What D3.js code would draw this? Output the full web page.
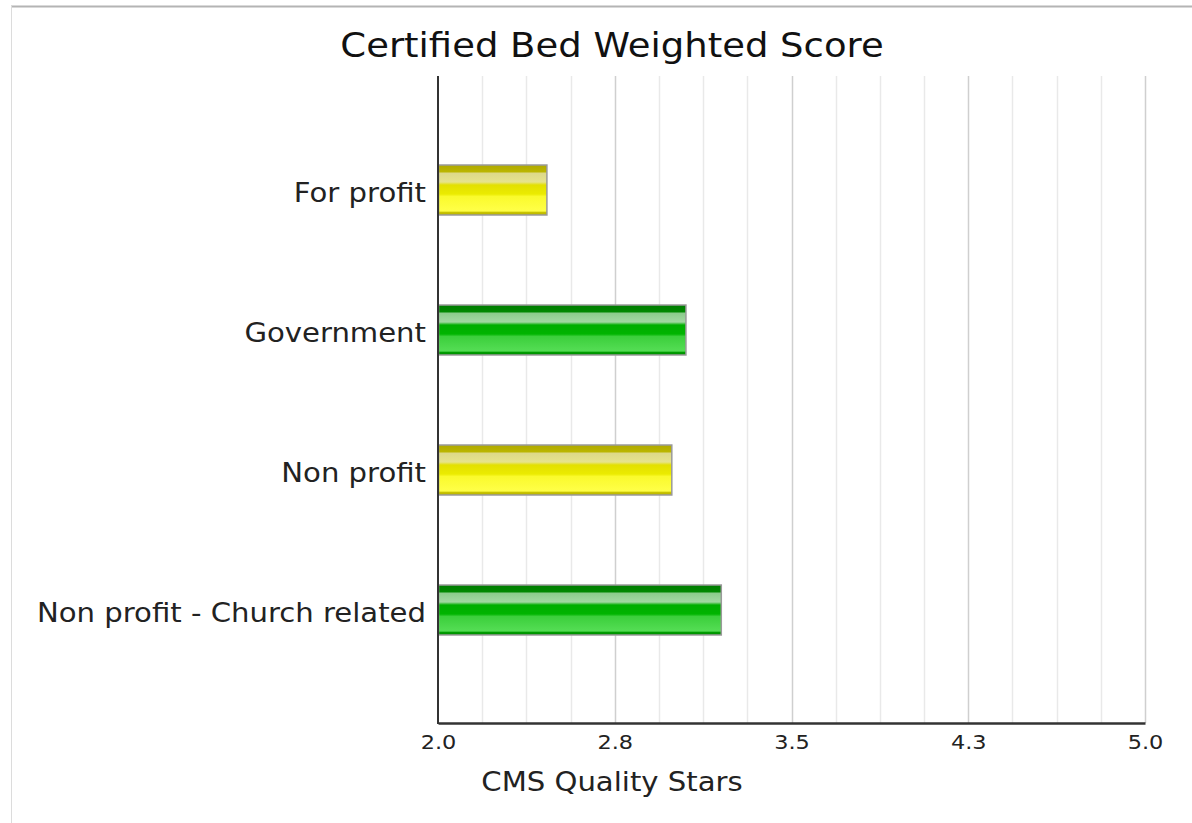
<!DOCTYPE html>
<html><head><meta charset="utf-8">
<script src="https://cdn.jsdelivr.net/npm/d3@7"></script>
<style>
html,body{margin:0;padding:0;background:#fff;}
svg{display:block;font-family:"DejaVu Sans",Verdana,sans-serif;}
</style></head>
<body><svg id="chart" width="1192" height="823"></svg>
<script>
const categories = ["For profit", "Government", "Non profit", "Non profit - Church related"];
const values = [2.46, 3.05, 2.99, 3.20];
const barColors = ["yellow", "green", "yellow", "green"];
const tickValues = [2.0, 2.75, 3.5, 4.25, 5.0];
const xDomain = [2.0, 5.0];
const title = "Certified Bed Weighted Score";
const xTitle = "CMS Quality Stars";

(function () {
const svg = d3.select("#chart");
const W = 1192, H = 823;
const pLeft = 438, pRight = 1145, pTop = 76, pBottom = 723;
const STRETCH = 1.12;
function stretch(sel) {
  sel.each(function () {
    const len = this.getComputedTextLength();
    d3.select(this).attr("textLength", len * STRETCH).attr("lengthAdjust", "spacingAndGlyphs");
  });
}

// outer frame lines
svg.append("line").attr("x1", 11).attr("x2", W).attr("y1", 6.5).attr("y2", 6.5)
  .attr("stroke", "#b4b4b4").attr("stroke-width", 2);
svg.append("line").attr("x1", 11.5).attr("x2", 11.5).attr("y1", 6).attr("y2", H)
  .attr("stroke", "#dcdcdc").attr("stroke-width", 1);

const defs = svg.append("defs");
const grads = {
  yellow: [[0, "#b0aa00"], [0.13, "#bab500"], [0.17, "#ddd98a"], [0.34, "#e6e38c"], [0.40, "#e3e000"], [0.58, "#ebeb00"], [0.63, "#fafa2c"], [0.92, "#ffff48"], [0.95, "#c8c300"], [1, "#b5b000"]],
  green: [[0, "#007c00"], [0.13, "#008800"], [0.17, "#8ccc8c"], [0.34, "#a3d8a3"], [0.40, "#00ae00"], [0.58, "#00b400"], [0.63, "#3bcf3b"], [0.92, "#55dd55"], [0.95, "#009c00"], [1, "#008600"]]
};
Object.entries(grads).forEach(([k, stops]) => {
  const g = defs.append("linearGradient").attr("id", "g-" + k)
    .attr("x1", 0).attr("y1", 0).attr("x2", 0).attr("y2", 1);
  stops.forEach(([o, c]) => g.append("stop").attr("offset", o).attr("stop-color", c));
});

const x = d3.scaleLinear().domain(xDomain).range([pLeft, pRight]);
const y = d3.scaleBand().domain(categories).range([120, 680]).paddingInner(0.643).paddingOuter(0.3215);

// grid lines
const gridVals = d3.range(0, 17).map(i => xDomain[0] + i * (xDomain[1] - xDomain[0]) / 16);
svg.append("g").selectAll("line").data(gridVals.slice(1)).join("line")
  .attr("x1", d => Math.round(x(d)) + 0.5).attr("x2", d => Math.round(x(d)) + 0.5)
  .attr("y1", pTop).attr("y2", pBottom)
  .attr("stroke", (d, i) => ((i + 1) % 4 === 0) ? "#cfcfcf" : "#e9e9e9")
  .attr("stroke-width", 1.5);

// bars
svg.append("g").selectAll("rect").data(categories).join("rect")
  .attr("x", pLeft + 0.5)
  .attr("y", d => y(d))
  .attr("width", (d, i) => x(values[i]) - pLeft)
  .attr("height", y.bandwidth())
  .attr("fill", (d, i) => "url(#g-" + barColors[i] + ")")
  .attr("stroke", "#9a9a9a").attr("stroke-width", 1.5);

// y axis line
svg.append("line").attr("x1", pLeft).attr("x2", pLeft).attr("y1", pTop).attr("y2", pBottom + 1)
  .attr("stroke", "#333").attr("stroke-width", 2);
// x axis
const xAxis = d3.axisBottom(x).tickValues(tickValues).tickSize(0).tickPadding(12)
  .tickFormat(d3.format(".1f"));
const gx = svg.append("g").attr("transform", `translate(0,${pBottom})`).call(xAxis);
gx.select(".domain").attr("stroke", "#333").attr("stroke-width", 2.5);
gx.selectAll("text").attr("font-size", 20).attr("fill", "#222")
  .attr("font-family", "DejaVu Sans, Verdana, sans-serif").call(stretch);

// y labels
const yAxis = d3.axisLeft(y).tickSize(0).tickPadding(12);
const gy = svg.append("g").attr("transform", `translate(${pLeft},4)`).call(yAxis);
gy.select(".domain").remove();
gy.selectAll("text").attr("font-size", 26).attr("fill", "#222")
  .attr("font-family", "DejaVu Sans, Verdana, sans-serif").call(stretch);

// titles
svg.append("text").attr("x", 612).attr("y", 57).attr("text-anchor", "middle")
  .attr("font-size", 33).attr("fill", "#111").text(title).call(stretch);
svg.append("text").attr("x", 612).attr("y", 791).attr("text-anchor", "middle")
  .attr("font-size", 26).attr("fill", "#222").text(xTitle).call(stretch);
})();
</script></body></html>
